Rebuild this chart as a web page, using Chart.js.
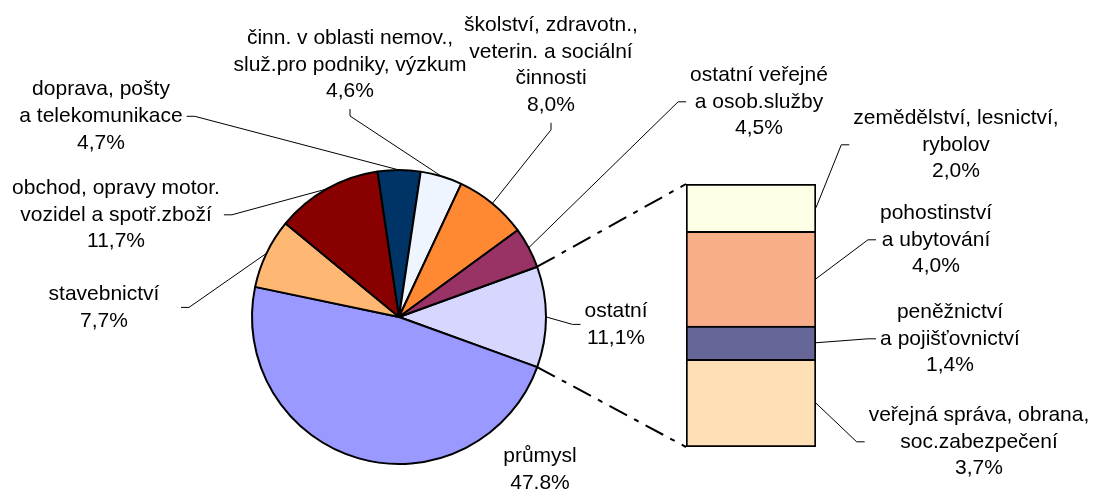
<!DOCTYPE html>
<html><head><meta charset="utf-8">
<script src="https://cdn.jsdelivr.net/npm/chart.js@4"></script>
<style>
html,body{margin:0;padding:0;background:#fff;}
#wrap{position:relative;width:1093px;height:489px;overflow:hidden;background:#fff;}
#wrap canvas{position:absolute;left:0;top:0;}
</style></head><body>
<div id="wrap"><canvas id="pie" width="1093" height="489"></canvas><canvas id="bar" width="1093" height="489"></canvas></div>
<script>
// ---- data (pie, clockwise starting with the "ostatní" slice) ----
const pieCategories = [
  ['ostatní'],
  ['průmysl'],
  ['stavebnictví'],
  ['obchod, opravy motor.', 'vozidel a spotř.zboží'],
  ['doprava, pošty', 'a telekomunikace'],
  ['činn. v oblasti nemov.,', 'služ.pro podniky, výzkum'],
  ['školství, zdravotn.,', 'veterin. a sociální', 'činnosti'],
  ['ostatní veřejné', 'a osob.služby']
];
const pieValues = [11.1, 47.8, 7.7, 11.7, 4.7, 4.6, 8.0, 4.5];
const pieColors = ['#D6D6FF', '#9999FF', '#FFB874', '#880000', '#003366', '#EEF5FF', '#FF8833', '#993366'];

// ---- data (breakdown bar, bottom to top) ----
const barCategories = [
  ['veřejná správa, obrana,', 'soc.zabezpečení'],
  ['peněžnictví', 'a pojišťovnictví'],
  ['pohostinství', 'a ubytování'],
  ['zemědělství, lesnictví,', 'rybolov']
];
const barValues = [3.7, 1.4, 4.0, 2.0];
const barColors = ['#FFE0B6', '#666699', '#F9AE8A', '#FFFFE6'];

// ---- label layout (center x, first line y, leader side, optional box width) ----
const pieLabelPos = [
  {x: 616, y: 311, side: 'left'},
  {x: 540, y: 456, side: null},
  {x: 104, y: 294, side: 'right', w: 146},
  {x: 116, y: 188, side: 'right'},
  {x: 101, y: 89.5, side: 'right'},
  {x: 350, y: 38, side: 'bottom'},
  {x: 551, y: 25, side: 'bottom'},
  {x: 759, y: 75, side: 'left'}
];
const barLabelPos = [
  {x: 979, y: 415, side: 'left'},
  {x: 950, y: 312, side: 'left'},
  {x: 936, y: 213, side: 'left'},
  {x: 956, y: 118, side: 'left'}
];

const FONT = '21px "Liberation Sans", Arial, sans-serif';
const LH = 26.8;
function fmt(v) { return v.toFixed(1).replace('.', ',') + '%'; }

function drawLabel(ctx, lines, pos, target) {
  ctx.save();
  ctx.font = FONT; ctx.fillStyle = '#000';
  ctx.textAlign = 'center'; ctx.textBaseline = 'middle';
  let maxW = 0;
  lines.forEach((t, i) => {
    ctx.fillText(t, pos.x, pos.y + i * LH);
    maxW = Math.max(maxW, ctx.measureText(t).width);
  });
  if (pos.w) maxW = Math.max(maxW, pos.w);
  if (target && pos.side) {
    const n = lines.length;
    const midY = pos.y + (n - 1) * LH / 2;
    let ax, ay, sx, sy;
    if (pos.side === 'right') { ax = pos.x + maxW / 2 + 4; ay = midY; sx = ax + 8; sy = ay; }
    else if (pos.side === 'left') { ax = pos.x - maxW / 2 - 4; ay = midY; sx = ax - 8; sy = ay; }
    else { ax = pos.x; ay = pos.y + (n - 1) * LH + LH / 2 + 4; sx = ax; sy = ay + 7; }
    ctx.beginPath();
    ctx.moveTo(ax, ay); ctx.lineTo(sx, sy); ctx.lineTo(target.x, target.y);
    ctx.lineWidth = 1; ctx.strokeStyle = '#000'; ctx.stroke();
  }
  ctx.restore();
}

const pieChart = new Chart(document.getElementById('pie'), {
  type: 'pie',
  data: {
    labels: pieCategories.map(l => l.join(' ')),
    datasets: [{
      data: pieValues,
      backgroundColor: pieColors,
      borderColor: '#000',
      borderWidth: 2
    }]
  },
  options: {
    responsive: false,
    animation: false,
    rotation: 70,
    layout: {padding: {left: 251, right: 546, top: 169, bottom: 24}},
    plugins: {legend: {display: false}, tooltip: {enabled: false}}
  }
});

const overlay = {
  id: 'overlay',
  afterDraw(chart) {
    const ctx = chart.ctx;
    const arcs = pieChart.getDatasetMeta(0).data;
    // pie labels
    arcs.forEach((a, i) => {
      const mid = (a.startAngle + a.endAngle) / 2;
      const R = a.outerRadius;
      const target = {x: a.x + R * Math.cos(mid), y: a.y + R * Math.sin(mid)};
      drawLabel(ctx, pieCategories[i].concat([fmt(pieValues[i])]), pieLabelPos[i], target);
    });
    // bar labels
    barValues.forEach((v, i) => {
      const b = chart.getDatasetMeta(i).data[0];
      const target = {x: b.x + b.width / 2, y: (b.y + b.base) / 2};
      drawLabel(ctx, barCategories[i].concat([fmt(v)]), barLabelPos[i], target);
    });
    // connector lines between "ostatní" slice and the bar
    const o = arcs[0];
    const R = o.outerRadius;
    const topBar = chart.getDatasetMeta(barValues.length - 1).data[0];
    const botBar = chart.getDatasetMeta(0).data[0];
    ctx.save();
    ctx.setLineDash([20, 8, 5, 8]);
    ctx.lineWidth = 2; ctx.strokeStyle = '#000';
    ctx.beginPath();
    ctx.moveTo(o.x + R * Math.cos(o.startAngle), o.y + R * Math.sin(o.startAngle));
    ctx.lineTo(topBar.x - topBar.width / 2, topBar.y);
    ctx.stroke();
    ctx.beginPath();
    ctx.moveTo(o.x + R * Math.cos(o.endAngle), o.y + R * Math.sin(o.endAngle));
    ctx.lineTo(botBar.x - botBar.width / 2, botBar.base);
    ctx.stroke();
    ctx.restore();
  }
};

const barTotal = barValues.reduce((s, v) => s + v, 0);
new Chart(document.getElementById('bar'), {
  type: 'bar',
  data: {
    labels: [''],
    datasets: barValues.map((v, i) => ({
      label: barCategories[i].join(' '),
      data: [v],
      backgroundColor: barColors[i],
      borderColor: '#000',
      borderWidth: {left: 2, right: 2, top: 2, bottom: i === 0 ? 2 : 0},
      borderSkipped: false,
      barPercentage: 1,
      categoryPercentage: 1
    }))
  },
  options: {
    responsive: false,
    animation: false,
    layout: {padding: {left: 686, right: 277, top: 184, bottom: 42}},
    scales: {
      x: {display: false, stacked: true},
      y: {display: false, stacked: true, min: 0, max: barTotal}
    },
    plugins: {legend: {display: false}, tooltip: {enabled: false}}
  },
  plugins: [overlay]
});
</script>
</body></html>
